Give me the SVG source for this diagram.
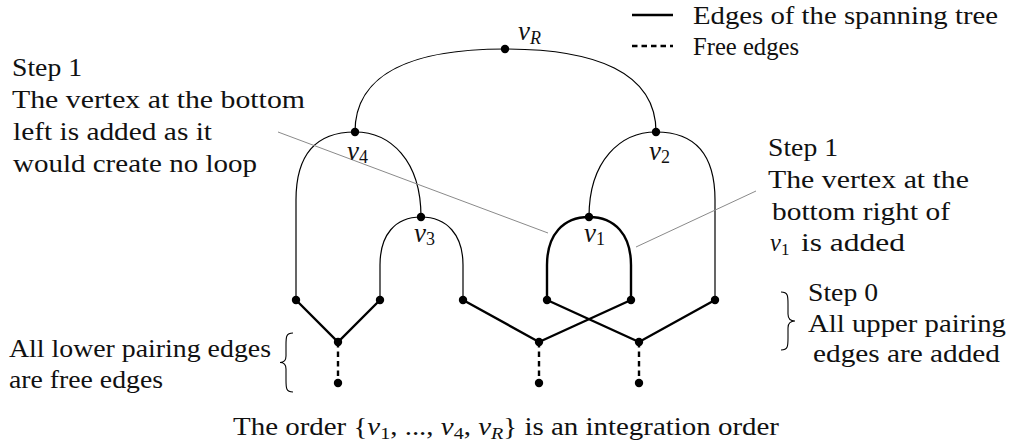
<svg xmlns="http://www.w3.org/2000/svg" width="1016" height="448" viewBox="0 0 1016 448">
<style>
text{font-family:"Liberation Serif","Times New Roman",serif;font-size:24.5px;fill:#111}
.m{font-style:italic}
.s{font-size:17px}
.lab{font-size:27px}
.lab .s{font-size:18px}
.arc{fill:none;stroke:#000;stroke-width:1.2}
.tree{fill:none;stroke:#000;stroke-width:2.4}
.free{fill:none;stroke:#000;stroke-width:2.4;stroke-dasharray:5.5 4}
.call{fill:none;stroke:#8a8a8a;stroke-width:1}
.brace{fill:none;stroke:#000;stroke-width:1.1}
.dot{fill:#000}
</style>
<rect width="1016" height="448" fill="#fff"/>

<g id="legend">
  <line class="tree" x1="632" y1="15" x2="673" y2="15"/>
  <text x="693" y="24" textLength="305" lengthAdjust="spacingAndGlyphs">Edges of the spanning tree</text>
  <line class="free" x1="632" y1="46" x2="673" y2="46"/>
  <text x="693" y="55" textLength="106" lengthAdjust="spacingAndGlyphs">Free edges</text>
</g>

<g id="connectors">
  <path class="arc" d="M505,49 C415,49 355,72 355,132"/>
  <path class="arc" d="M505,49 C595,49 656,72 656,132"/>
  <path class="arc" d="M355,132 C320,132 296,150 296,200 L296,300"/>
  <path class="arc" d="M355,132 C390,132 421,160 421,217"/>
  <path class="arc" d="M656,132 C621,132 589,160 589,217"/>
  <path class="arc" d="M656,132 C691,132 715,150 715,200 L715,300"/>
  <path class="arc" d="M421,217 C395,217 380,235 380,265 L380,300"/>
  <path class="arc" d="M421,217 C447,217 463,235 463,265 L463,300"/>
  <path class="tree" d="M589,217 C563,217 547,235 547,265 L547,300"/>
  <path class="tree" d="M589,217 C615,217 631,235 631,265 L631,300"/>
  <path class="tree" d="M296,300 L338,342 L380,300"/>
  <path class="tree" d="M463,300 L539,342 L631,300"/>
  <path class="tree" d="M547,300 L639,342 L715,300"/>
  <path class="free" d="M338,342 V383"/>
  <path class="free" d="M539,342 V383"/>
  <path class="free" d="M639,342 V383"/>
  <path class="call" d="M278,132 L548,233"/>
  <path class="call" d="M636,247 L756,191"/>
</g>

<g id="vR"><circle class="dot" cx="505" cy="49" r="4.2"/><text class="lab" x="518" y="40"><tspan class="m">v</tspan><tspan class="s m" dy="4">R</tspan></text></g>
<g id="v4"><circle class="dot" cx="355" cy="132" r="4.2"/><text class="lab" x="347" y="160"><tspan class="m">v</tspan><tspan class="s" dy="3">4</tspan></text></g>
<g id="v2"><circle class="dot" cx="656" cy="132" r="4.2"/><text class="lab" x="649" y="160"><tspan class="m">v</tspan><tspan class="s" dy="3">2</tspan></text></g>
<g id="v3"><circle class="dot" cx="421" cy="217" r="4.2"/><text class="lab" x="414" y="242"><tspan class="m">v</tspan><tspan class="s" dy="3">3</tspan></text></g>
<g id="v1"><circle class="dot" cx="589" cy="217" r="4.2"/><text class="lab" x="584" y="242"><tspan class="m">v</tspan><tspan class="s" dy="3">1</tspan></text></g>

<g id="upper-leaves">
  <circle class="dot" cx="296" cy="300" r="4.2"/>
  <circle class="dot" cx="380" cy="300" r="4.2"/>
  <circle class="dot" cx="463" cy="300" r="4.2"/>
  <circle class="dot" cx="547" cy="300" r="4.2"/>
  <circle class="dot" cx="631" cy="300" r="4.2"/>
  <circle class="dot" cx="715" cy="300" r="4.2"/>
</g>
<g id="pair-nodes">
  <circle class="dot" cx="338" cy="342" r="4.2"/>
  <circle class="dot" cx="539" cy="342" r="4.2"/>
  <circle class="dot" cx="639" cy="342" r="4.2"/>
</g>
<g id="lower-leaves">
  <circle class="dot" cx="338" cy="383" r="4.2"/>
  <circle class="dot" cx="539" cy="383" r="4.2"/>
  <circle class="dot" cx="639" cy="383" r="4.2"/>
</g>

<g id="note-left">
  <text x="12" y="76" textLength="70" lengthAdjust="spacingAndGlyphs">Step 1</text>
  <text x="12" y="108" textLength="293" lengthAdjust="spacingAndGlyphs">The vertex at the bottom</text>
  <text x="13" y="140" textLength="199" lengthAdjust="spacingAndGlyphs">left is added as it</text>
  <text x="13" y="172" textLength="244" lengthAdjust="spacingAndGlyphs">would create no loop</text>
</g>

<g id="note-right">
  <text x="768" y="156" textLength="70" lengthAdjust="spacingAndGlyphs">Step 1</text>
  <text x="768" y="188" textLength="201" lengthAdjust="spacingAndGlyphs">The vertex at the</text>
  <text x="772" y="220" textLength="178" lengthAdjust="spacingAndGlyphs">bottom right of</text>
  <text x="770" y="251"><tspan class="m">v</tspan><tspan class="s" dy="4">1</tspan><tspan dy="-4" x="801" textLength="104" lengthAdjust="spacingAndGlyphs">is added</tspan></text>
</g>

<g id="note-step0">
  <path class="brace" d="M781,292 C788,292 788,296 788,304 L788,314 C788,318 790,321 795,321 C790,321 788,324 788,328 L788,338 C788,346 788,350 781,350"/>
  <text x="808" y="301" textLength="70" lengthAdjust="spacingAndGlyphs">Step 0</text>
  <text x="808" y="332" textLength="198" lengthAdjust="spacingAndGlyphs">All upper pairing</text>
  <text x="813" y="362" textLength="187" lengthAdjust="spacingAndGlyphs">edges are added</text>
</g>

<g id="note-lower">
  <path class="brace" d="M293,333 C286,333 286,337 286,345 L286,356 C286,360 284,362.5 280,362.5 C284,362.5 286,365 286,369 L286,380 C286,388 286,392 293,392"/>
  <text x="9" y="357" textLength="262" lengthAdjust="spacingAndGlyphs">All lower pairing edges</text>
  <text x="9" y="388" textLength="154" lengthAdjust="spacingAndGlyphs">are free edges</text>
</g>

<g id="caption">
  <text x="233" y="435" textLength="546" lengthAdjust="spacingAndGlyphs">The order {<tspan class="m">v</tspan><tspan class="s" dy="4">1</tspan><tspan dy="-4">, ..., </tspan><tspan class="m">v</tspan><tspan class="s" dy="4">4</tspan><tspan dy="-4">, </tspan><tspan class="m">v</tspan><tspan class="s m" dy="4">R</tspan><tspan dy="-4">} is an integration order</tspan></text>
</g>
</svg>
